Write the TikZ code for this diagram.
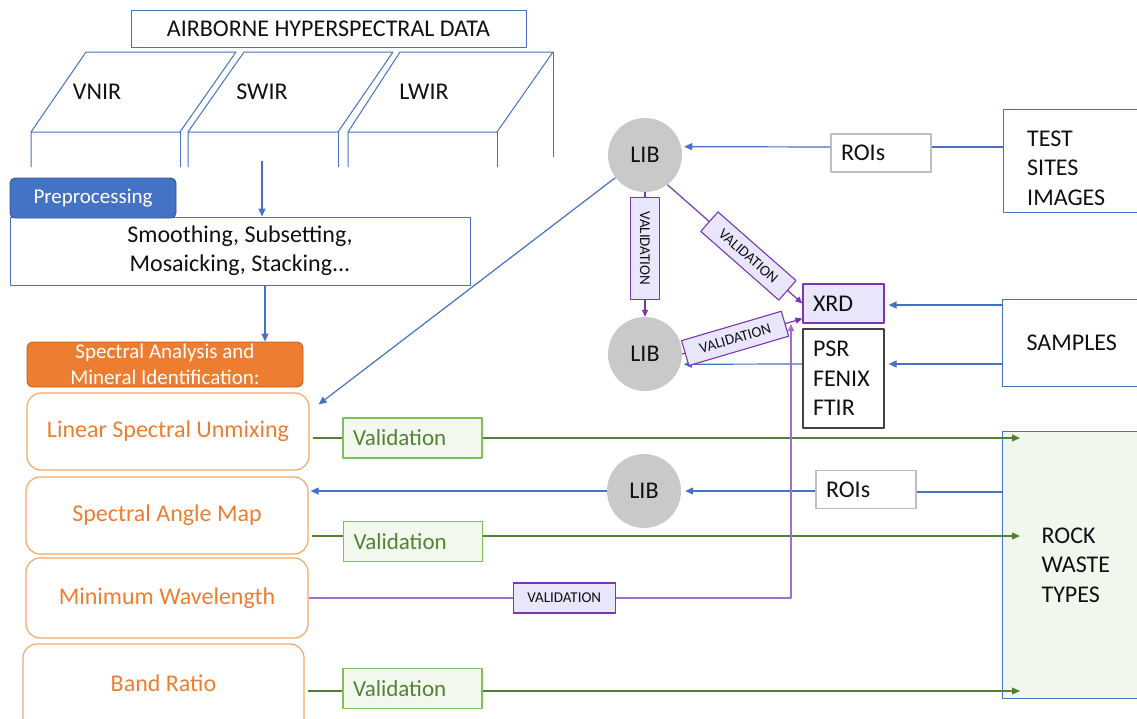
\documentclass[tikz,border=0pt]{standalone}
\usepackage{fontspec}
\setmainfont{Carlito}
\usetikzlibrary{arrows.meta,calc}
\definecolor{cblue}{HTML}{4472C4}
\definecolor{cdblue}{HTML}{2F5597}
\definecolor{corange}{HTML}{ED7D31}
\definecolor{cordark}{HTML}{C55A11}
\definecolor{corlight}{HTML}{F4A766}
\definecolor{cgreen}{HTML}{548235}
\definecolor{cgborder}{HTML}{7CC257}
\definecolor{cgfill}{HTML}{F3F8EF}
\definecolor{cpurple}{HTML}{7B35B0}
\definecolor{cplight}{HTML}{A66BD3}
\definecolor{cpfill}{HTML}{E8E6FA}
\definecolor{cgray}{HTML}{C9C9C9}
\definecolor{cgrayb}{HTML}{BFBFBF}
\definecolor{ctext}{HTML}{111111}
\definecolor{crock}{HTML}{F2F7EE}
\newcommand{\fsz}[2]{\fontsize{#1}{#2}\selectfont}
\tikzset{
  bline/.style={draw=cblue, line width=1pt},
  bconn/.style={draw=cblue, line width=1.2pt},
  gconn/.style={draw=cgreen, line width=1.2pt},
  pconn/.style={draw=cpurple, line width=1.2pt},
  lpconn/.style={draw=cplight, line width=1.4pt},
  arr/.style={-{Triangle[length=8pt,width=7pt]}},
  parr/.style={-{Triangle[length=7pt,width=6pt]}},
  method/.style={draw=corlight, line width=1.2pt, rounded corners=14pt, text=corange,
    font=\fsz{24}{29}, minimum width=282pt, inner sep=0pt},
  valbox/.style={draw=cgborder, fill=cgfill, line width=1.2pt, text=cgreen,
    font=\fsz{23}{28}, text width=119pt, inner xsep=10pt, inner ysep=0pt,
    align=left, minimum height=40pt},
  vlabel/.style={draw=cpurple, fill=cpfill, line width=1.1pt, text=ctext,
    font=\fsz{15}{18}, inner sep=0pt, minimum width=104pt, minimum height=26pt},
  roibox/.style={draw=cgrayb, fill=white, line width=1.2pt, text=ctext, font=\fsz{24}{29},
    text width=80pt, inner xsep=10pt, inner ysep=0pt, align=left, minimum height=38pt},
  lib/.style={circle, fill=cgray, minimum size=74pt, inner sep=0pt, text=ctext,
    font=\fsz{24}{29}},
  bigbox/.style={draw=cblue, line width=1.2pt, anchor=north west, text=ctext,
    font=\fsz{24}{29.5}, inner xsep=24pt, inner ysep=0pt, text width=140pt, align=left},
}
\begin{document}
\begin{tikzpicture}[x=1pt,y=-1pt,line join=round]
\useasboundingbox (0,0) rectangle (1137,718);
\begin{scope}
\clip (0,0) rectangle (1137,718);

% ---- top: airborne data
\node[draw=cblue, line width=1pt, minimum width=395pt, minimum height=37pt,
  inner sep=0pt, font=\fsz{24}{29}, text=ctext] (air) at (328.5,28.5) {AIRBORNE HYPERSPECTRAL DATA};

\draw[bline] (31,167) -- (31,132) -- (86,52) -- (236,52) -- (180,132) -- (31,132);
\draw[bline] (180,132) -- (180,167);
\draw[bline] (188,167) -- (188,132) -- (244,52) -- (393,52) -- (338,132) -- (188,132);
\draw[bline] (338,132) -- (338,167);
\draw[bline] (348,167) -- (348,132) -- (400,52) -- (553,52) -- (497,132) -- (348,132);
\draw[bline] (497,132) -- (497,167);
\draw[bline] (553,52) -- (553,157);
\node[font=\fsz{24}{29}, text=ctext] (vnir) at (97,92) {VNIR};
\node[font=\fsz{24}{29}, text=ctext] (swir) at (262,92) {SWIR};
\node[font=\fsz{24}{29}, text=ctext] (lwir) at (424,92) {LWIR};
\coordinate (swirb) at (262,161);

% ---- preprocessing
\node[draw=cblue, line width=1pt, minimum width=460pt, minimum height=68pt, inner sep=0pt,
  font=\fsz{24}{29}, text=ctext, align=center] (smo) at (240,251)
  {Smoothing, Subsetting,\\Mosaicking, Stacking...};
\node[fill=cblue, draw=cdblue, line width=0.8pt, rounded corners=5pt, minimum width=166pt,
  minimum height=40pt, inner sep=0pt, text=white, font=\fsz{21}{25}] (pre) at (93,198) {Preprocessing};
\draw[bconn, arr] (swirb) -- (swirb |- smo.north);

% ---- spectral analysis
\node[fill=corange, draw=cordark, line width=0.8pt, rounded corners=6pt, minimum width=276pt,
  minimum height=45pt, inner sep=0pt, text=white, font=\fsz{21}{26}, align=center] (spa)
  at (165,364.5) {Spectral Analysis and\\Mineral Identification:};
\draw[bconn, arr] ([xshift=25pt]smo.south) -- ([xshift=25pt]smo.south |- spa.north);

\node[method, minimum height=77pt] (lsu) at (168,431.5) {Linear Spectral Unmixing};
\node[method, minimum height=77pt] (sam) at (167,515.5) {Spectral Angle Map};
\node[method, minimum height=80pt] (mw) at (167,598) {Minimum Wavelength};
\node[method, minimum height=100pt, minimum width=281pt] (br) at (163.5,694) {\raisebox{22pt}{Band Ratio}};

\node[valbox] (val1) at (412.5,438) {Validation};
\node[valbox] (val2) at (413,541.5) {Validation};
\node[valbox] (val3) at (412.5,688.5) {Validation};

% ---- right side boxes
\node[bigbox, minimum height=103pt] (tst) at (1003,109) {};
\node[anchor=west, font=\fsz{24}{29.5}, text=ctext, align=left, inner sep=0pt] (tsttxt)
  at (1027,168) {TEST\\SITES\\IMAGES};
\node[bigbox, minimum height=87pt] (smp) at (1002,299) {SAMPLES};
\node[bigbox, fill=crock, minimum height=267pt, inner xsep=39pt] (rock) at (1002,431) {ROCK\\WASTE\\TYPES};
\coordinate (rin) at ([xshift=18pt]rock.west);

\node[roibox] (roi1) at (881,153) {ROIs};
\node[roibox] (roi2) at (866,489.5) {ROIs};

\node[draw=cpurple, fill=cpfill, line width=1.2pt, minimum height=39pt, text width=61pt,
  inner xsep=10pt, inner ysep=0pt, align=left, font=\fsz{24}{29}, text=ctext] (xrd) at (843.5,303.5) {XRD};
\node[draw=ctext!80, line width=1.2pt, minimum height=99pt, text width=61pt, inner xsep=10pt,
  inner ysep=0pt, align=left, font=\fsz{24}{29.5}, text=ctext] (psr) at (843.5,378.5) {PSR\\FENIX\\FTIR};

\node[lib] (lib1) at (645,155) {LIB};
\node[lib] (lib2) at (645,354) {LIB};
\node[lib] (lib3) at (644,491) {LIB};

% ---- blue connectors
\coordinate (yt) at (0,147);
\coordinate (ys1) at (0,305);
\coordinate (ys2) at (0,364);
\coordinate (yr) at (0,492);
\draw[bconn] (tst.west |- yt) -- (roi1.east |- yt);
\draw[bconn, arr, shorten >=3pt] (roi1.west |- yt) -- (lib1.13);
\draw[bconn, arr, shorten >=4pt] (smp.west |- ys1) -- (xrd.east |- ys1);
\draw[bconn, arr, shorten >=4pt] (smp.west |- ys2) -- (psr.east |- ys2);
\draw[bconn, arr, shorten >=3pt] (psr.west |- ys2) -- (lib2.-16);
\coordinate (lsutip) at ($(lsu.north east)+(9,12)$);
\draw[bconn, arr] (lib1) -- (lsutip);
\draw[bconn] (rock.west |- yr) -- (roi2.east |- yr);
\draw[bconn, arr, shorten >=4pt] (roi2.west |- lib3.east) -- (lib3.east);
\draw[bconn, arr, shorten >=2pt] (lib3.west) -- (sam.east |- lib3.west);

% ---- green connectors
\coordinate (y2) at (0,536);
\coordinate (y3) at (0,691);
\draw[gconn, shorten <=3pt] (lsu.east |- val1.west) -- (val1.west);
\draw[gconn, arr] (val1.east) -- (rin |- val1.east);
\draw[gconn, shorten <=3pt] (sam.east |- y2) -- (val2.west |- y2);
\draw[gconn, arr] (val2.east |- y2) -- (rin |- y2);
\draw[gconn, shorten <=3pt] (br.east |- y3) -- (val3.west |- y3);
\draw[gconn, arr] (val3.east |- y3) -- (rin |- y3);

% ---- purple validation connectors
\draw[pconn, parr] (lib1.south) -- node[vlabel, rotate=-90, pos=0.45, minimum width=102pt, minimum height=29pt] (vl1) {VALIDATION} (lib2.north);
\draw[pconn, parr] (lib1.-53) -- node[vlabel, sloped, pos=0.6] (vl2) {VALIDATION} (xrd.west);
\coordinate (xrdlow) at ($(xrd.south west)+(0,-5)$);
\draw[pconn, parr] (lib2.east) -- node[vlabel, sloped, pos=0.44] (vl3) {VALIDATION} (xrdlow);
\coordinate (mwc) at (791,598);
\coordinate (mwtip) at (791,324);
\draw[lpconn, parr] (mw.east) -- node[vlabel, pos=0.53, minimum width=102pt, minimum height=30pt] (vl4) {VALIDATION} (mwc) -- (mwtip);
\end{scope}
\end{tikzpicture}
\end{document}
